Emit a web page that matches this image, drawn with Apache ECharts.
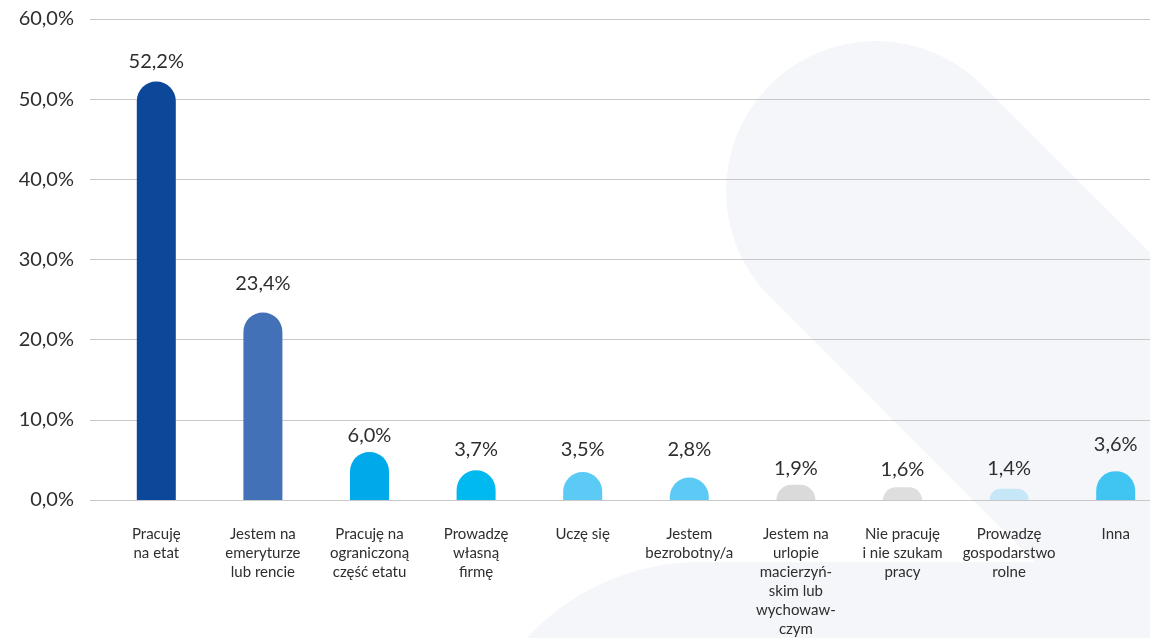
<!DOCTYPE html>
<html>
<head>
<meta charset="utf-8">
<script src="https://cdn.jsdelivr.net/npm/echarts@6/dist/echarts.min.js"></script>
<style>
  html, body { margin: 0; padding: 0; background: #ffffff; }
  #chart { width: 1150px; height: 638px; }
</style>
</head>
<body>
<div id="chart"></div>
<script>
// ---- data ----
const categories = [
  'Pracuję\nna etat',
  'Jestem na\nemeryturze\nlub rencie',
  'Pracuję na\nograniczoną\nczęść etatu',
  'Prowadzę\nwłasną\nfirmę',
  'Uczę się',
  'Jestem\nbezrobotny/a',
  'Jestem na\nurlopie\nmacierzyń-\nskim lub\nwychowaw-\nczym',
  'Nie pracuję\ni nie szukam\npracy',
  'Prowadzę\ngospodarstwo\nrolne',
  'Inna'
];
const values = [52.2, 23.4, 6.0, 3.7, 3.5, 2.8, 1.9, 1.6, 1.4, 3.6];
const yTicks = [0, 10, 20, 30, 40, 50, 60];

// ---- styles (kept apart from data) ----
const barColors = ['#0D4799', '#4371B7', '#00AAEA', '#00B9EF', '#5BCBF5', '#5BCBF5', '#DADADA', '#DEDEDE', '#C5E7F8', '#40C5F2'];
const labelGaps = [10, 19, 6, 11, 12, 18, 6, 8, 10, 17];
const FONT = 'Lato';
const TEXT = '#2E2E2E';

const fmt = v => v.toFixed(1).replace('.', ',') + '%';

const chart = echarts.init(document.getElementById('chart'), null, { renderer: 'canvas' });

chart.setOption({
  backgroundColor: '#ffffff',
  animation: false,
  textStyle: { fontFamily: FONT },
  graphic: [
    {
      type: 'rect', z: -10,
      position: [876, 191], rotation: -Math.PI / 4,
      shape: { x: -150, y: -150, width: 900, height: 300, r: 150 },
      style: { fill: '#F5F6FA' }
    },
    {
      type: 'rect', z: -10,
      shape: { x: 465, y: 562, width: 1000, height: 400, r: [235, 0, 0, 0] },
      style: { fill: '#F5F6FA' }
    }
  ],
  grid: [
    { left: 90, right: 0, top: 19, bottom: 138, containLabel: false, outerBoundsMode: 'none' },
    { left: 103, width: 1066, top: 19, bottom: 138, containLabel: false, outerBoundsMode: 'none' }
  ],
  xAxis: [
    { type: 'category', gridIndex: 0, data: categories, show: false },
    {
      type: 'category', gridIndex: 1, data: categories,
      axisLine: { show: false }, axisTick: { show: false },
      axisLabel: {
        interval: 0, margin: 25, color: TEXT, fontFamily: FONT,
        fontSize: 15, lineHeight: 18.9, align: 'center', hideOverlap: false
      }
    }
  ],
  yAxis: [
    {
      type: 'value', gridIndex: 0, min: yTicks[0], max: yTicks[yTicks.length - 1], interval: 10,
      axisLine: { show: false }, axisTick: { show: false },
      splitLine: { lineStyle: { color: '#C8C8C8', width: 1 } },
      axisLabel: { color: TEXT, fontFamily: FONT, fontSize: 20, margin: 16, formatter: fmt }
    },
    {
      type: 'value', gridIndex: 1, min: yTicks[0], max: yTicks[yTicks.length - 1], interval: 10,
      show: false
    }
  ],
  series: [
    {
      type: 'bar', xAxisIndex: 1, yAxisIndex: 1,
      barWidth: 39,
      data: values.map((v, i) => ({
        value: v,
        itemStyle: { color: barColors[i], borderRadius: [19.5, 19.5, 0, 0] },
        label: { distance: labelGaps[i] }
      })),
      label: {
        show: true, position: 'top', color: TEXT, fontFamily: FONT, fontSize: 20,
        formatter: p => fmt(p.value)
      }
    }
  ]
});
</script>
</body>
</html>
